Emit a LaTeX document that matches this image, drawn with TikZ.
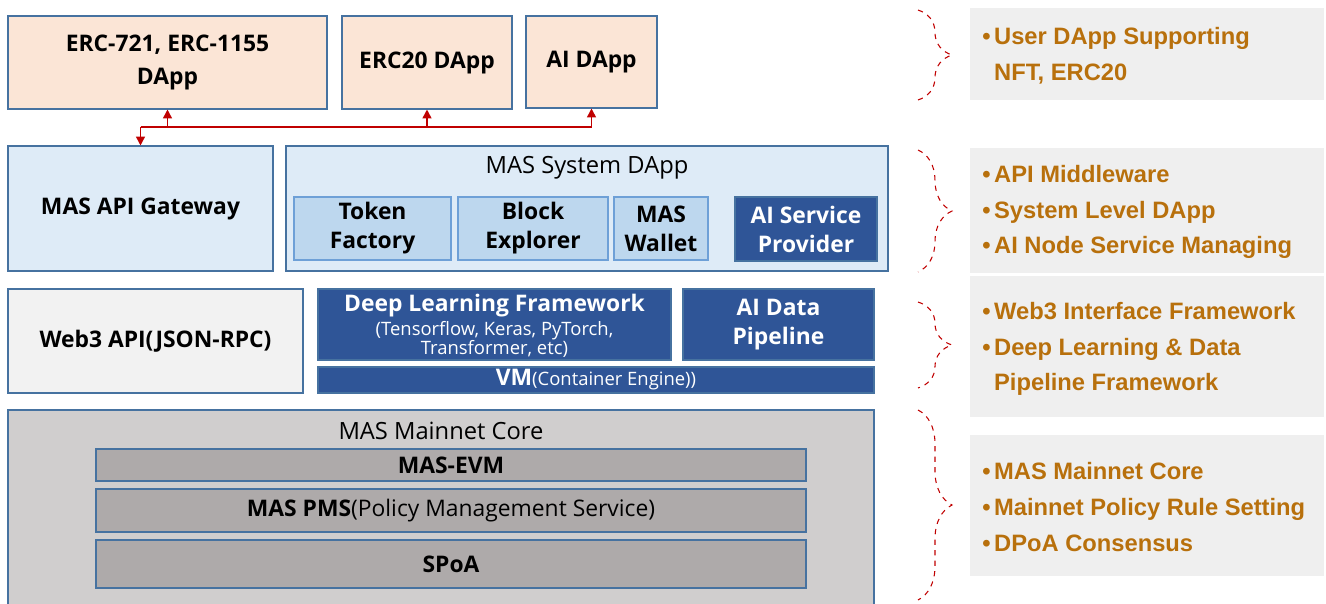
\documentclass[tikz,border=0pt]{standalone}
\usepackage{fontspec}
\setmainfont{Open Sans}
\newfontfamily\panelfont{Liberation Sans}
\usetikzlibrary{arrows.meta,decorations.pathreplacing}

\definecolor{edge}{RGB}{70,114,160}
\definecolor{peach}{RGB}{251,229,214}
\definecolor{paleblue}{RGB}{222,235,247}
\definecolor{midblue}{RGB}{189,215,238}
\definecolor{midedge}{RGB}{110,160,215}
\definecolor{darkblue}{RGB}{47,85,151}
\definecolor{webgray}{RGB}{242,242,242}
\definecolor{coregray}{RGB}{208,206,206}
\definecolor{layergray}{RGB}{174,170,170}
\definecolor{panelgray}{RGB}{239,239,239}
\definecolor{noteorange}{RGB}{184,112,12}
\definecolor{linkred}{RGB}{192,0,0}

\begin{document}
\begin{tikzpicture}[x=0.02cm,y=-0.02cm,
  size/.style 2 args={minimum width=#1*0.02cm, minimum height=#2*0.02cm},
  box/.style={draw=edge, line width=0.6pt, inner sep=0pt, align=center,
    font=\bfseries\fontsize{13}{16.5}\selectfont},
  dapp/.style={box, fill=peach},
  mid/.style={box, fill=paleblue},
  tool/.style={box, draw=midedge, fill=midblue},
  dark/.style={box, fill=darkblue, text=white},
  core/.style={box, fill=layergray},
  title/.style={anchor=base, inner sep=0pt, font=\fontsize{13.5}{16}\selectfont},
  panel/.style={fill=panelgray, inner sep=0pt},
  note/.style={anchor=west, align=left, inner sep=0pt, text=noteorange,
    font=\panelfont\bfseries\fontsize{13.5}{20.4}\selectfont},
  link/.style={draw=linkred, line width=0.9pt},
  brace/.style={draw=linkred, line width=0.6pt, dashed,
    decorate, decoration={brace, amplitude=0.68cm, aspect=0.5}}]
\useasboundingbox (0,0) rectangle (1326,604);

% user dapps
\node[dapp, size={319}{93}, font=\bfseries\fontsize{13}{19}\selectfont] (erc721) at (167.5,62.5) {ERC-721, ERC-1155\\DApp};
\node[dapp, size={170}{93}] (erc20) at (427,62.5) {ERC20 DApp};
\node[dapp, size={131}{92}] (aidapp) at (591.5,62) {AI DApp};

% middleware
\node[mid, size={265}{125}] (gateway) at (140.5,208.5) {MAS API Gateway};
\node[mid, size={602}{125}] (sysdapp) at (587,208.5) {};
\node[title] (systitle) at (587,174) {MAS System DApp};
\node[tool, size={157}{63}] (token) at (372.5,228.5) {Token\\Factory};
\node[tool, size={150}{63}] (explorer) at (533,228.5) {Block\\Explorer};
\node[tool, size={94}{63}] (wallet) at (661,228.5) {MAS\\Wallet};
\node[dark, size={142}{64}] (aiservice) at (806,229) {AI Service\\Provider};

% interface layer
\node[box, fill=webgray, size={295}{104}] (web3) at (155.5,341) {Web3 API(JSON-RPC)};
\node[dark, size={353}{71}] (deeplearn) at (494.5,324.5) {};
\node[title, text=white, font=\bfseries\fontsize{13}{16}\selectfont] (dltitle) at (494.5,312) {Deep Learning Framework};
\node[title, text=white, align=center, font=\fontsize{10.5}{11.3}\selectfont] (dlsub) at (494.5,355) {(Tensorflow, Keras, PyTorch,\\Transformer, etc)};
\node[dark, size={191}{71}] (pipeline) at (778.5,324.5) {AI Data\\Pipeline};
\node[dark, size={556}{26}] (vm) at (596,380) {VM{\mdseries\fontsize{10.5}{11}\selectfont(Container Engine))}};

% mainnet core
\node[box, fill=coregray, size={866}{200}] (mainnet) at (441,510) {};
\node[title] (coretitle) at (441,440) {MAS Mainnet Core};
\node[core, size={710}{32}] (evm) at (451,465) {MAS-EVM};
\node[core, size={710}{43}] (pms) at (451,510.5) {MAS PMS{\mdseries(Policy Management Service)}};
\node[core, size={710}{48}] (spoa) at (451,564) {SPoA};

% links between dapps and gateway
\coordinate (bus) at (140.5,127);
\coordinate (j1) at (erc721.south |- bus);
\coordinate (j2) at (erc20.south |- bus);
\coordinate (j3) at (aidapp.south |- bus);
\path[link] (bus) -- (j3);
\path[link,-{Triangle[length=5pt,width=5pt]}] (bus) -- (gateway.north);
\path[link,-{Triangle[length=5pt,width=5pt]}] (j1) -- (erc721.south);
\path[link,-{Triangle[length=5pt,width=5pt]}] (j2) -- (erc20.south);
\path[link,-{Triangle[length=5pt,width=5pt]}] (j3) -- (aidapp.south);

% braces
\path[brace] (918,10) -- (918,100);
\path[brace] (918,150) -- (918,272);
\path[brace] (918,302) -- (918,388);
\path[brace] (918,410) -- (918,600);

% notes
\node[panel, size={354}{92}] (p1) at (1147,54) {};
\node[panel, size={354}{125}] (p2) at (1147,210.5) {};
\node[panel, size={354}{141}] (p3) at (1147,346.5) {};
\node[panel, size={354}{141}] (p4) at (1147,505.5) {};
\node[note] (n1) at (982,56) {•\hspace{2pt}User DApp Supporting\\\phantom{•\hspace{2pt}}NFT, ERC20};
\node[note] (n2) at (982,212) {•\hspace{2pt}API Middleware\\•\hspace{2pt}System Level DApp\\•\hspace{2pt}AI Node Service Managing};
\node[note] (n3) at (982,349) {•\hspace{2pt}Web3 Interface Framework\\•\hspace{2pt}Deep Learning \& Data\\\phantom{•\hspace{2pt}}Pipeline Framework};
\node[note] (n4) at (982,507) {•\hspace{2pt}MAS Mainnet Core\\•\hspace{2pt}Mainnet Policy Rule Setting\\•\hspace{2pt}DPoA Consensus};
\end{tikzpicture}
\end{document}
